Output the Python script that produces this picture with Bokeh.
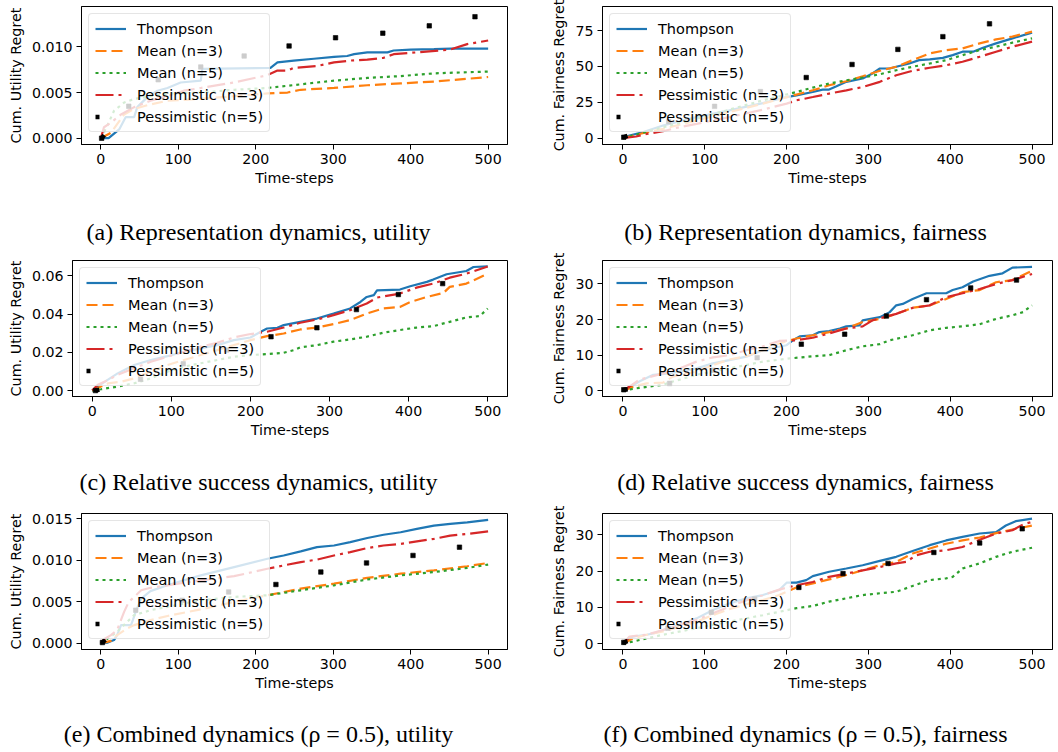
from bokeh.plotting import figure
from bokeh.models import (Range1d, FixedTicker, PrintfTickFormatter, Legend,
                          LegendItem)
from bokeh.layouts import column, row
from bokeh.embed import file_html
from bokeh.resources import INLINE

NAMES = ["Thompson", "Mean (n=3)", "Mean (n=5)", "Pessimistic (n=3)", "Pessimistic (n=5)"]
X_TICKS = [0, 100, 200, 300, 400, 500]

# ---------------- (a) Representation dynamics, utility ----------------
a_thompson_x = [0, 10, 24, 32, 43, 47, 60, 73, 86, 103, 129, 131, 219, 228, 249, 275, 301, 318, 327, 344, 370, 378, 400, 430, 452, 500]
a_thompson_y = [0, 0, 0.0010, 0.0023, 0.0023, 0.0034, 0.0045, 0.0052, 0.0055, 0.0061, 0.0063, 0.0076, 0.0077, 0.0083, 0.0085, 0.0087, 0.0089, 0.0090, 0.0092, 0.0094, 0.0094, 0.0096, 0.0097, 0.00975, 0.0098, 0.0098]
a_mean3_x = [0, 13, 30, 43, 64, 86, 129, 172, 215, 241, 258, 301, 344, 387, 430, 473, 500]
a_mean3_y = [0, 0.0006, 0.0026, 0.0032, 0.0037, 0.0041, 0.0043, 0.0046, 0.0049, 0.0050, 0.0053, 0.0055, 0.0058, 0.0060, 0.0062, 0.0065, 0.0067]
a_mean5_x = [0, 9, 17, 30, 43, 64, 86, 129, 172, 215, 258, 301, 344, 387, 430, 500]
a_mean5_y = [0, 0.0015, 0.0030, 0.0039, 0.0043, 0.0046, 0.0049, 0.0050, 0.0053, 0.0055, 0.0059, 0.0063, 0.0066, 0.0068, 0.0071, 0.0073]
a_pess3_x = [0, 4, 13, 26, 43, 64, 86, 107, 129, 172, 215, 228, 241, 249, 279, 301, 322, 344, 365, 378, 408, 451, 473, 500]
a_pess3_y = [0, 0.0012, 0.0017, 0.0026, 0.0034, 0.0041, 0.0046, 0.0052, 0.0055, 0.0061, 0.0069, 0.0074, 0.0074, 0.0077, 0.0079, 0.0083, 0.0085, 0.0086, 0.0088, 0.0092, 0.0094, 0.0097, 0.0103, 0.0107]
a_pess5_x = [1, 36, 74, 129, 185, 243, 303, 364, 424, 483]
a_pess5_y = [0, 0.0035, 0.0064, 0.0078, 0.0090, 0.0101, 0.0110, 0.0115, 0.0123, 0.0133]

# ---------------- (b) Representation dynamics, fairness ----------------
b_thompson_x = [0, 8, 24, 49, 90, 130, 171, 200, 212, 232, 244, 252, 261, 273, 293, 305, 314, 326, 334, 350, 362, 375, 391, 403, 415, 428, 440, 456, 476, 500]
b_thompson_y = [0, 1.9, 4.2, 8.9, 14.7, 19.4, 24.5, 28.7, 29.9, 32.2, 33.9, 33.9, 36.2, 39.3, 41.6, 45.1, 48.6, 48.6, 49.8, 52.1, 54.4, 54.9, 56.0, 57.9, 60.3, 60.3, 63.1, 66.1, 69.6, 73.6]
b_mean3_x = [0, 8, 29, 49, 90, 130, 171, 204, 232, 252, 273, 293, 314, 334, 354, 375, 395, 415, 436, 456, 476, 500]
b_mean3_y = [0, 1.2, 4.2, 6.5, 12.4, 18.2, 24.1, 29.2, 33.4, 36.9, 39.7, 43.2, 47.0, 49.8, 54.4, 59.1, 61.4, 62.6, 66.1, 68.9, 70.8, 74.3]
b_mean5_x = [0, 8, 49, 90, 130, 171, 212, 232, 252, 273, 293, 314, 334, 354, 375, 395, 415, 436, 456, 476, 500]
b_mean5_y = [0, 1.2, 7.7, 13.6, 19.9, 26.4, 32.2, 35.3, 38.1, 40.4, 42.3, 44.6, 47.4, 49.8, 52.1, 54.4, 57.9, 61.4, 63.8, 66.6, 69.6]
b_pess3_x = [0, 16, 29, 49, 69, 90, 130, 171, 200, 212, 232, 252, 273, 293, 314, 334, 354, 375, 395, 415, 436, 456, 476, 500]
b_pess3_y = [0, 1.2, 3.0, 4.9, 7.7, 10.0, 14.7, 19.9, 24.1, 26.4, 28.7, 31.1, 33.4, 35.7, 39.3, 43.9, 47.0, 49.1, 50.9, 53.3, 56.8, 60.3, 63.8, 67.3]
b_pess5_x = [1, 56, 112, 168, 224, 280, 336, 391, 448]
b_pess5_y = [0.7, 11.5, 22.2, 32.5, 42.3, 51.4, 61.9, 70.8, 79.7]

# ---------------- (c) Relative success dynamics, utility ----------------
c_thompson_x = [0, 7, 16, 32, 53, 74, 95, 116, 137, 158, 179, 200, 213, 221, 234, 242, 263, 284, 305, 326, 339, 347, 356, 360, 389, 402, 423, 431, 448, 473, 482, 500]
c_thompson_y = [0, 0.0021, 0.0047, 0.0090, 0.0134, 0.0160, 0.0180, 0.0203, 0.0221, 0.0238, 0.0264, 0.0278, 0.0308, 0.0325, 0.0329, 0.0343, 0.0360, 0.0377, 0.0403, 0.0430, 0.0464, 0.0490, 0.0500, 0.0525, 0.0529, 0.0546, 0.0569, 0.0581, 0.0609, 0.0626, 0.0647, 0.0650]
c_mean3_x = [0, 11, 20, 37, 53, 74, 95, 116, 137, 158, 179, 200, 221, 242, 263, 284, 305, 326, 347, 368, 389, 402, 423, 444, 452, 473, 500]
c_mean3_y = [0, 0.0021, 0.0038, 0.0047, 0.0064, 0.0099, 0.0134, 0.0160, 0.0186, 0.0212, 0.0238, 0.0264, 0.0285, 0.0299, 0.0320, 0.0330, 0.0348, 0.0369, 0.0403, 0.0430, 0.0438, 0.0464, 0.0490, 0.0511, 0.0543, 0.0560, 0.0612]
c_mean5_x = [0, 11, 32, 53, 74, 95, 116, 137, 158, 179, 200, 221, 242, 255, 263, 284, 305, 326, 347, 368, 389, 410, 431, 452, 473, 490, 500]
c_mean5_y = [0, 0.0007, 0.0021, 0.0038, 0.0064, 0.0099, 0.0125, 0.0143, 0.0160, 0.0177, 0.0186, 0.0191, 0.0198, 0.0212, 0.0226, 0.0238, 0.0256, 0.0268, 0.0282, 0.0303, 0.0317, 0.0330, 0.0337, 0.0360, 0.0383, 0.0390, 0.0430]
c_pess3_x = [0, 7, 16, 32, 53, 74, 95, 116, 137, 158, 179, 200, 221, 242, 263, 284, 305, 326, 347, 360, 389, 410, 431, 452, 473, 500]
c_pess3_y = [0, 0.0030, 0.0047, 0.0082, 0.0117, 0.0151, 0.0177, 0.0203, 0.0230, 0.0250, 0.0278, 0.0296, 0.0308, 0.0330, 0.0355, 0.0372, 0.0395, 0.0421, 0.0456, 0.0487, 0.0508, 0.0539, 0.0560, 0.0591, 0.0612, 0.0650]
c_pess5_x = [4, 61, 115, 170, 226, 284, 334, 387, 443]
c_pess5_y = [0, 0.0059, 0.0140, 0.0212, 0.0282, 0.0329, 0.0424, 0.0503, 0.0560]

# ---------------- (d) Relative success dynamics, fairness ----------------
d_thompson_x = [0, 8, 20, 37, 57, 90, 110, 130, 151, 171, 200, 208, 216, 232, 240, 252, 265, 273, 289, 293, 314, 326, 334, 342, 354, 371, 395, 403, 415, 428, 448, 464, 476, 500]
d_thompson_y = [0, 1.0, 2.6, 4.5, 4.9, 6.3, 7.7, 8.6, 9.6, 11.4, 12.8, 14.2, 15.3, 15.6, 16.5, 16.8, 17.5, 18.1, 18.4, 19.8, 20.7, 22.1, 24.0, 24.4, 25.8, 27.4, 27.4, 28.3, 29.1, 30.7, 32.3, 33.0, 34.6, 34.8]
d_mean3_x = [0, 16, 29, 49, 61, 90, 110, 130, 151, 171, 191, 212, 232, 252, 273, 293, 314, 334, 354, 375, 395, 415, 436, 456, 476, 500]
d_mean3_y = [0, 1.4, 2.1, 2.3, 4.0, 5.4, 7.2, 8.8, 9.7, 11.4, 13.3, 14.7, 15.6, 16.5, 17.5, 19.3, 20.2, 21.6, 23.3, 24.0, 25.8, 27.7, 28.3, 30.5, 31.1, 33.7]
d_mean5_x = [0, 16, 49, 61, 90, 130, 171, 204, 232, 252, 273, 293, 314, 326, 354, 375, 395, 415, 436, 456, 476, 489, 500]
d_mean5_y = [0, 0.7, 1.7, 2.6, 4.5, 6.3, 8.2, 9.1, 9.7, 10.0, 11.4, 12.5, 13.1, 14.2, 15.6, 17.0, 17.7, 18.1, 18.7, 20.2, 21.2, 22.1, 24.0]
d_pess3_x = [0, 8, 20, 49, 69, 90, 110, 130, 151, 171, 191, 212, 232, 252, 273, 293, 305, 334, 354, 375, 395, 415, 436, 456, 476, 500]
d_pess3_y = [0, 1.2, 3.1, 4.9, 6.3, 8.2, 9.4, 10.0, 11.4, 12.5, 14.0, 14.2, 14.9, 16.1, 17.5, 18.1, 19.8, 21.6, 23.3, 24.0, 26.3, 27.4, 28.6, 30.0, 31.1, 32.8]
d_pess5_x = [1, 57, 110, 164, 218, 271, 322, 371, 425, 481]
d_pess5_y = [0.3, 2.1, 5.8, 9.3, 13.1, 15.9, 21.0, 25.6, 28.9, 31.1]

# ---------------- (e) Combined dynamics, utility ----------------
e_thompson_x = [0, 9, 17, 21, 26, 39, 45, 52, 64, 86, 107, 129, 172, 215, 236, 258, 279, 301, 322, 344, 365, 387, 408, 430, 451, 473, 500]
e_thompson_y = [0, 0.0001, 0.0004, 0.0010, 0.0022, 0.0022, 0.0038, 0.0054, 0.0063, 0.0070, 0.0076, 0.0082, 0.0092, 0.0102, 0.0106, 0.0111, 0.0116, 0.0118, 0.0122, 0.0127, 0.0131, 0.0134, 0.0138, 0.0142, 0.0144, 0.0146, 0.0149]
e_mean3_x = [0, 13, 21, 34, 43, 64, 86, 129, 172, 215, 258, 301, 344, 387, 430, 473, 500]
e_mean3_y = [0, 0.0003, 0.0010, 0.0018, 0.0022, 0.0028, 0.0033, 0.0041, 0.0050, 0.0058, 0.0066, 0.0072, 0.0079, 0.0084, 0.0088, 0.0093, 0.0097]
e_mean5_x = [0, 9, 21, 34, 43, 64, 86, 129, 172, 215, 258, 301, 344, 387, 430, 473, 500]
e_mean5_y = [0, 0.0006, 0.0014, 0.0026, 0.0034, 0.0040, 0.0044, 0.0052, 0.0056, 0.0058, 0.0064, 0.0070, 0.0077, 0.0082, 0.0086, 0.0091, 0.0095]
e_pess3_x = [0, 4, 13, 21, 30, 36, 43, 52, 64, 86, 129, 172, 215, 236, 258, 279, 301, 322, 344, 365, 387, 408, 430, 451, 473, 500]
e_pess3_y = [0, 0.0005, 0.0010, 0.0016, 0.0038, 0.0050, 0.0056, 0.0064, 0.0067, 0.0070, 0.0076, 0.0081, 0.0090, 0.0094, 0.0098, 0.0101, 0.0106, 0.0110, 0.0115, 0.0118, 0.0120, 0.0123, 0.0126, 0.0130, 0.0132, 0.0135]
e_pess5_x = [2, 45, 105, 165, 226, 284, 343, 403, 463]
e_pess5_y = [0.0001, 0.0040, 0.0052, 0.0062, 0.0071, 0.0086, 0.0097, 0.0106, 0.0116]

# ---------------- (f) Combined dynamics, fairness ----------------
f_thompson_x = [0, 4, 12, 29, 41, 49, 69, 90, 110, 130, 151, 171, 191, 200, 212, 224, 232, 252, 273, 293, 314, 334, 354, 375, 395, 415, 436, 456, 468, 480, 500]
f_thompson_y = [0, 0.6, 2.0, 2.5, 3.1, 3.8, 5.2, 7.0, 9.3, 11.1, 12.5, 13.4, 14.8, 16.8, 16.8, 17.5, 18.6, 19.8, 20.7, 21.6, 22.8, 23.9, 25.5, 27.1, 28.4, 29.4, 30.3, 30.7, 32.5, 33.7, 34.4]
f_mean3_x = [0, 12, 29, 49, 69, 90, 110, 130, 151, 171, 191, 212, 232, 252, 273, 293, 314, 334, 354, 375, 395, 415, 436, 456, 476, 500]
f_mean3_y = [0, 1.5, 2.5, 3.4, 4.7, 6.1, 7.9, 9.5, 10.9, 12.0, 13.4, 15.5, 16.6, 17.7, 18.9, 20.2, 21.6, 22.5, 24.8, 26.2, 27.5, 28.4, 29.2, 30.4, 31.4, 32.5]
f_mean5_x = [0, 29, 49, 90, 130, 171, 191, 212, 232, 252, 273, 293, 314, 334, 354, 375, 395, 403, 415, 436, 456, 476, 500]
f_mean5_y = [0, 1.5, 2.5, 4.3, 6.1, 7.9, 8.8, 9.8, 10.4, 11.6, 12.5, 13.4, 13.9, 14.3, 15.9, 17.5, 18.0, 18.4, 20.7, 22.1, 23.9, 25.3, 26.4]
f_pess3_x = [0, 8, 29, 49, 69, 90, 110, 130, 151, 171, 191, 212, 232, 252, 273, 293, 314, 334, 346, 358, 375, 395, 415, 436, 456, 476, 489, 500]
f_pess3_y = [0, 2.0, 2.5, 3.8, 5.2, 6.6, 8.4, 10.2, 12.0, 13.4, 14.9, 16.1, 17.0, 18.4, 19.3, 20.2, 21.1, 22.1, 22.5, 24.3, 25.3, 25.7, 26.6, 28.6, 30.3, 31.2, 32.8, 33.5]
f_pess5_x = [1, 55, 108, 161, 215, 269, 324, 380, 436, 488]
f_pess5_y = [0.4, 4.3, 8.7, 12.3, 15.5, 19.3, 22.1, 25.1, 27.7, 31.6]

CAPTIONS = {
    "a": "(a) Representation dynamics, utility",
    "b": "(b) Representation dynamics, fairness",
    "c": "(c) Relative success dynamics, utility",
    "d": "(d) Relative success dynamics, fairness",
    "e": "(e) Combined dynamics (\u03c1 = 0.5), utility",
    "f": "(f) Combined dynamics (\u03c1 = 0.5), fairness",
}
Y_LABELS = {"a": "Cum. Utility Regret", "b": "Cum. Fairness Regret",
            "c": "Cum. Utility Regret", "d": "Cum. Fairness Regret",
            "e": "Cum. Utility Regret", "f": "Cum. Fairness Regret"}
Y_TICKS = {"a": [0.0, 0.005, 0.010], "b": [0, 25, 50, 75],
           "c": [0.0, 0.02, 0.04, 0.06], "d": [0, 10, 20, 30],
           "e": [0.0, 0.005, 0.010, 0.015], "f": [0, 10, 20, 30]}
Y_FMT = {"a": "%.3f", "b": "%d", "c": "%.2f", "d": "%d", "e": "%.3f", "f": "%d"}
Y_LIM = {"a": (-0.00069, 0.01442), "b": (-4.37, 91.8), "c": (-0.0031, 0.0681),
         "d": (-1.6, 36.6), "e": (-0.00074, 0.01566), "f": (-1.55, 35.8)}

DATA = {
    "a": [(a_thompson_x, a_thompson_y), (a_mean3_x, a_mean3_y), (a_mean5_x, a_mean5_y), (a_pess3_x, a_pess3_y), (a_pess5_x, a_pess5_y)],
    "b": [(b_thompson_x, b_thompson_y), (b_mean3_x, b_mean3_y), (b_mean5_x, b_mean5_y), (b_pess3_x, b_pess3_y), (b_pess5_x, b_pess5_y)],
    "c": [(c_thompson_x, c_thompson_y), (c_mean3_x, c_mean3_y), (c_mean5_x, c_mean5_y), (c_pess3_x, c_pess3_y), (c_pess5_x, c_pess5_y)],
    "d": [(d_thompson_x, d_thompson_y), (d_mean3_x, d_mean3_y), (d_mean5_x, d_mean5_y), (d_pess3_x, d_pess3_y), (d_pess5_x, d_pess5_y)],
    "e": [(e_thompson_x, e_thompson_y), (e_mean3_x, e_mean3_y), (e_mean5_x, e_mean5_y), (e_pess3_x, e_pess3_y), (e_pess5_x, e_pess5_y)],
    "f": [(f_thompson_x, f_thompson_y), (f_mean3_x, f_mean3_y), (f_mean5_x, f_mean5_y), (f_pess3_x, f_pess3_y), (f_pess5_x, f_pess5_y)],
}

# ---------------- styling / layout ----------------
LINE_STYLES = [
    dict(line_color="#1f77b4", line_width=2.2, line_dash="solid"),
    dict(line_color="#ff7f0e", line_width=2.2, line_dash="11 5"),
    dict(line_color="#2ca02c", line_width=2.2, line_dash="3 4"),
    dict(line_color="#d62728", line_width=2.2, line_dash="18 5 3 5"),
]
SANS = "DejaVu Sans"
SERIF = "Liberation Serif"

# plot key: (width, height, min_border_left, right, top, bottom)
LAYOUT = {
    "a": (530, 216, 81, 23, 6, 72),
    "b": (528, 216, 72, 6, 6, 72),
    "c": (530, 213, 72, 23, 7, 70),
    "d": (528, 213, 72, 6, 7, 70),
    "e": (530, 213, 81, 23, 8, 69),
    "f": (528, 213, 72, 6, 8, 69),
}
# caption strip heights per row
CAP_H = [37, 39, 34]


def make_panel(key):
    w, h, mbl, mbr, mbt, mbb = LAYOUT[key]
    lo, hi = Y_LIM[key]
    p = figure(width=w, height=h, x_range=Range1d(-25, 525), y_range=Range1d(lo, hi),
               output_backend="svg", toolbar_location=None,
               min_border_left=mbl, min_border_right=mbr,
               min_border_top=mbt, min_border_bottom=mbb)
    p.background_fill_color = "white"
    p.border_fill_color = "white"
    p.outline_line_color = "black"
    p.outline_line_width = 1
    p.xgrid.visible = False
    p.ygrid.visible = False

    p.xaxis.ticker = FixedTicker(ticks=X_TICKS)
    p.xaxis.formatter = PrintfTickFormatter(format="%d")
    p.yaxis.ticker = FixedTicker(ticks=Y_TICKS[key])
    p.yaxis.formatter = PrintfTickFormatter(format=Y_FMT[key])
    p.xaxis.axis_label = "Time-steps"
    p.yaxis.axis_label = Y_LABELS[key]
    for ax in (p.xaxis[0], p.yaxis[0]):
        ax.axis_line_color = "black"
        ax.axis_line_width = 1
        ax.major_tick_line_color = "black"
        ax.major_tick_line_width = 1
        ax.major_tick_in = 0
        ax.major_tick_out = 5
        ax.minor_tick_line_color = None
        ax.major_label_text_font = SANS
        ax.major_label_text_font_size = "14.2px"
        ax.major_label_text_color = "black"
        ax.major_label_standoff = 4
        ax.axis_label_text_font = SANS
        ax.axis_label_text_font_size = "14.3px"
        ax.axis_label_text_font_style = "normal"
        ax.axis_label_text_color = "black"
    p.xaxis.axis_label_standoff = 3
    p.yaxis.axis_label_standoff = 5

    series = DATA[key]
    items = []
    for i in range(4):
        xs, ys = series[i]
        r = p.line(xs, ys, **LINE_STYLES[i])
        items.append(LegendItem(label=NAMES[i], renderers=[r]))
    xs, ys = series[4]
    p.scatter(xs, ys, marker="square", size=4.5, fill_color="black",
              line_color="black", line_width=0.6)
    # same series drawn as a single leading dot: legend handle with marker at left
    r5 = p.line(xs, ys, line_color="black", line_width=4.5, line_dash="4 3000")
    items.append(LegendItem(label=NAMES[4], renderers=[r5]))

    legend = Legend(items=items, location="top_left", margin=7, padding=6,
                    spacing=5, glyph_width=31, glyph_height=17, label_height=17,
                    label_standoff=11, label_text_font=SANS,
                    label_text_font_size="14.5px", label_text_color="black",
                    border_line_color="#cccccc", border_line_width=1,
                    background_fill_color="white", background_fill_alpha=0.8)
    if "border_radius" in Legend.properties():
        legend.border_radius = 4
    p.add_layout(legend)
    return p


def make_caption(key, width, height, left_col):
    # a strip whose (invisible) frame is centred under the sub-figure,
    # carrying the caption as a centred title
    mbl, mbr = (0, 14) if left_col else (22, 0)
    c = figure(width=width, height=height, x_range=Range1d(0, 1), y_range=Range1d(0, 1),
               x_axis_type=None, y_axis_type=None, output_backend="svg",
               toolbar_location=None, title=CAPTIONS[key],
               min_border_left=mbl, min_border_right=mbr,
               min_border_top=0, min_border_bottom=0)
    c.outline_line_color = None
    c.background_fill_color = "white"
    c.border_fill_color = "white"
    c.xgrid.visible = False
    c.ygrid.visible = False
    c.title.align = "center"
    c.title.text_font = SERIF
    c.title.text_font_size = "24px"
    c.title.text_font_style = "normal"
    c.title.text_color = "black"
    c.title.vertical_align = "bottom"
    if "standoff" in type(c.title).properties():
        c.title.standoff = 0
    return c


panels = {k: make_panel(k) for k in "abcdef"}
rows = []
for i, (l, r) in enumerate([("a", "b"), ("c", "d"), ("e", "f")]):
    rows.append(row(panels[l], panels[r]))
    rows.append(row(make_caption(l, 530, CAP_H[i], True),
                    make_caption(r, 528, CAP_H[i], False)))
layout = column(*rows)

open("out.html", "w").write(file_html(layout, INLINE, title="Regret dynamics"))
